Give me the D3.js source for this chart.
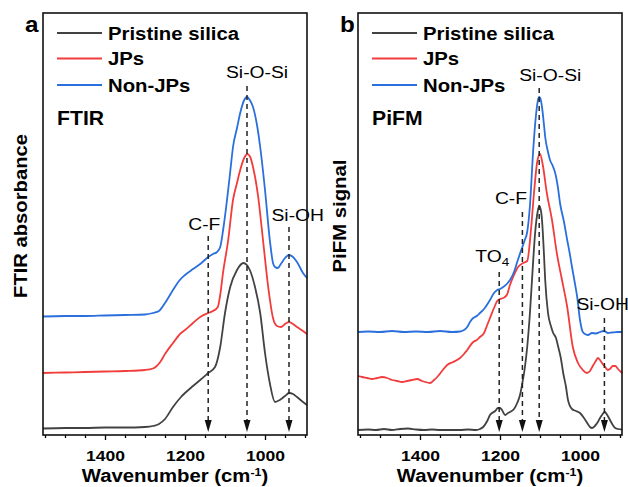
<!DOCTYPE html>
<html>
<head>
<meta charset="utf-8">
<style>
  body { margin: 0; background: #fff; }
  svg { display: block; }
  text { font-family: "Liberation Sans", Arial, sans-serif; fill: #000; }
</style>
</head>
<body>
<svg width="628" height="487"></svg>

<script src="https://cdn.jsdelivr.net/npm/d3@7/dist/d3.min.js"></script>
<script>

// series as [wavenumber, offset intensity]
var seriesNames = ["Pristine silica", "JPs", "Non-JPs"];

var ftirPristine = [[1555,6.5],[1500,7],[1450,7],[1400,7.5],[1350,7.5],[1300,8],[1280,9],[1265,11],[1250,16],[1230,28],[1210,38],[1200,42],[1180,49],[1162,55],[1142,62],[1125,68],[1112,88],[1100,122],[1087,148],[1070,165],[1054,172],[1038,165],[1025,148],[1012,122],[1000,82],[988,52],[975,33],[963,35],[950,39],[940,42],[930,41],[920,38],[905,33],[895,30]];
var ftirJPs = [[1555,62],[1500,62.5],[1450,63],[1400,63.5],[1350,64],[1300,65],[1280,66.5],[1262,73],[1250,81],[1230,92],[1210,102],[1200,105],[1180,112],[1162,118],[1142,122],[1130,124],[1118,128],[1112,140],[1105,162],[1092,195],[1080,235],[1070,252],[1062,265],[1052,277],[1044,281],[1037,278],[1030,268],[1017,238],[1005,195],[992,148],[980,117],[970,109],[960,108],[950,111],[940,113],[930,111],[920,108],[905,104],[895,101]];
var ftirNonJPs = [[1555,118.5],[1500,119],[1450,119],[1400,119.5],[1350,120],[1300,120.5],[1280,122],[1265,124],[1250,132],[1230,145],[1215,154],[1200,160],[1180,166],[1162,171],[1142,178],[1130,181],[1120,183],[1112,188],[1104,207],[1095,235],[1087,263],[1080,288],[1070,307],[1062,322],[1052,335],[1045,338],[1038,335],[1030,328],[1020,310],[1012,288],[1000,245],[988,195],[980,172],[975,168],[968,167],[962,170],[950,177],[940,180],[930,178],[920,173],[905,162],[895,157]];

var pifmPristine = [[1555,5],[1530,5.5],[1510,5],[1490,6],[1470,5],[1450,6],[1430,6.5],[1410,5.5],[1390,5],[1370,5.5],[1350,5],[1330,5],[1300,5],[1280,5.5],[1260,5],[1250,6],[1242,8],[1232,14],[1225,20],[1212,24],[1205,27],[1200,27],[1195,25],[1187,20],[1180,22],[1175,23],[1165,26],[1157,32],[1150,40],[1145,50],[1138,67],[1132,88],[1125,123],[1120,155],[1112,203],[1106,223],[1102,229],[1098,225],[1095,215],[1090,180],[1087,155],[1080,122],[1072,108],[1067,102],[1060,97],[1055,89],[1048,77],[1042,62],[1035,48],[1030,35],[1020,26],[1010,24],[1000,22],[990,17],[982,12],[975,8],[970,7],[963,9],[957,12],[950,17],[945,20],[938,23],[932,20],[925,15],[918,10],[912,7],[905,6],[895,5.5]];
var pifmJPs = [[1555,59],[1545,58],[1532,57],[1520,56],[1507,57],[1495,58],[1482,57],[1470,55],[1457,54],[1445,53],[1432,54],[1420,55],[1407,56],[1395,54],[1387,53],[1375,52],[1365,55],[1357,58],[1345,64],[1332,70],[1317,73],[1300,77],[1290,81],[1282,85],[1267,93],[1258,95],[1250,98],[1240,102],[1232,110],[1225,117],[1215,127],[1207,134],[1200,136],[1192,137],[1183,140],[1175,150],[1165,160],[1155,168],[1142,172],[1132,174],[1122,208],[1115,242],[1107,273],[1100,281],[1093,270],[1083,242],[1070,215],[1058,182],[1045,155],[1032,128],[1018,88],[1005,72],[993,65],[983,62],[975,64],[968,69],[962,73],[955,77],[950,75],[945,72],[937,68],[930,65],[925,66],[918,69],[912,69],[905,66],[895,62]];
var pifmNonJPs = [[1555,103],[1530,103.5],[1500,103],[1470,104],[1440,103],[1410,103.5],[1380,103],[1350,104],[1320,103],[1300,103.5],[1290,105],[1282,108],[1275,113],[1267,117],[1258,119],[1250,122],[1240,126],[1225,135],[1215,142],[1207,145],[1200,146],[1192,148],[1183,151],[1175,155],[1165,163],[1157,173],[1145,187],[1138,195],[1132,203],[1125,230],[1117,285],[1110,320],[1105,335],[1102,338],[1098,335],[1095,328],[1090,310],[1087,298],[1080,283],[1075,275],[1068,269],[1062,262],[1055,247],[1050,232],[1040,213],[1032,195],[1025,180],[1020,168],[1012,150],[1007,138],[1000,115],[993,103],[985,100.5],[980,100],[970,102],[960,101.5],[950,103],[940,104],[930,102],[920,102.5],[905,103],[895,103]];

var ftirBands = ["C-F", "Si-O-Si", "Si-OH"];
var ftirBandWn = [1142, 1045, 940];
var pifmBands = ["TO4", "C-F", "Si-O-Si", "Si-OH"];
var pifmBandWn = [1202, 1144, 1102, 939];

var tickLabels = [1400, 1200, 1000];
var minorTicks = d3.range(900, 1551, 50);

var colors = ["#424242", "#f23c3c", "#2b6fdc"];

var svg = d3.select("svg");
var plotTop = 13, plotBottom = 435;

// label placement for each band (text start relative to its line, baseline, top of dashes)
var panels = [
  {letter: "a", x0: 43, x1: 307, name: "FTIR", ytitle: "FTIR absorbance", ytx: 27, ytLen: 164,
   series: [ftirPristine, ftirJPs, ftirNonJPs], bands: ftirBands, bandWn: ftirBandWn,
   lab: [[-20, 230, 236], [-21, 78, 86], [-17.5, 221, 227]]},
  {letter: "b", x0: 358, x1: 622, name: "PiFM", ytitle: "PiFM signal", ytx: 346, ytLen: 113,
   series: [pifmPristine, pifmJPs, pifmNonJPs], bands: pifmBands, bandWn: pifmBandWn,
   lab: [[-24, 262, 272], [-27.5, 204, 212], [-20, 81, 88], [-28, 310, 318]]}
];

var y = d3.scaleLinear().domain([0, 422]).range([plotBottom, plotTop]);

// stretched text, the reference is a little wider than plain Arial
function stext(g, x, y, str, size, weight, sx, anchor, rot) {
  return g.append("text")
    .attr("transform", "translate(" + x + "," + y + ")" + (rot ? " rotate(" + rot + ")" : "") + " scale(" + sx + ",1)")
    .attr("text-anchor", anchor || "start")
    .style("font-size", size + "px")
    .style("font-weight", weight)
    .text(str);
}

panels.forEach(function(p) {
  var g = svg.append("g");
  var x = d3.scaleLinear().domain([1555, 895]).range([p.x0, p.x1]);

  // x axis
  var axis = g.append("g")
    .attr("transform", "translate(0," + plotBottom + ")")
    .call(d3.axisBottom(x).tickValues(minorTicks).tickSize(3).tickSizeOuter(0)
      .tickFormat(function(d) { return tickLabels.indexOf(d) >= 0 ? d : ""; }));
  axis.select(".domain").remove();
  axis.selectAll(".tick line").attr("stroke", "#000").attr("stroke-width", 1.3)
    .attr("y2", function(d) { return tickLabels.indexOf(d) >= 0 ? 5 : 3; });
  axis.selectAll(".tick text")
    .attr("y", 26.5).attr("dy", null)
    .attr("transform", "scale(1.13,1)")
    .style("font-family", "Liberation Sans, Arial, sans-serif")
    .style("font-size", "15.5px").style("font-weight", "bold").attr("fill", "#000");

  // lines
  var line = d3.line()
    .x(function(d) { return x(d[0]); })
    .y(function(d) { return y(d[1]); })
    .curve(d3.curveMonotoneX);

  p.series.forEach(function(s, i) {
    g.append("path")
      .attr("d", line(s))
      .attr("fill", "none")
      .attr("stroke", colors[i])
      .attr("stroke-width", 1.8);
  });

  // band markers
  p.bandWn.forEach(function(wn, i) {
    var bx = x(wn), lp = p.lab[i];
    g.append("line")
      .attr("x1", bx).attr("x2", bx)
      .attr("y1", lp[2]).attr("y2", 421)
      .attr("stroke", "#222").attr("stroke-width", 1.5)
      .attr("stroke-dasharray", "5,4");
    g.append("path")
      .attr("d", "M" + (bx - 3.5) + ",420L" + (bx + 3.5) + ",420L" + bx + ",432Z")
      .attr("fill", "#111");
    var t = stext(g, bx + lp[0], lp[1], "", 16.5, "normal", 1.17);
    if (p.bands[i] == "TO4") {
      t.append("tspan").text("TO");
      t.append("tspan").attr("dy", 4).style("font-size", "11.5px").text("4");
    } else {
      t.text(p.bands[i]);
    }
  });

  // frame
  g.append("rect")
    .attr("x", p.x0).attr("y", plotTop)
    .attr("width", p.x1 - p.x0).attr("height", plotBottom - plotTop)
    .attr("fill", "none").attr("stroke", "#111").attr("stroke-width", 1.6);

  // legend
  seriesNames.forEach(function(n, i) {
    var ly = [33, 58.5, 85][i];
    g.append("line")
      .attr("x1", p.x0 + 14).attr("x2", p.x0 + 59)
      .attr("y1", ly).attr("y2", ly)
      .attr("stroke", colors[i]).attr("stroke-width", 2);
    stext(g, p.x0 + 65, ly + 6.5, n, 18, "bold", 1.13);
  });

  stext(g, p.x0 + 14, 125, p.name, 20, "bold", 1.06);
  stext(g, p.x0 - 18, 31.5, p.letter, 22, "bold", 1.1);

  // titles
  var wt = stext(g, (p.x0 + p.x1) / 2, 482, "", 18, "bold", 1.13, "middle");
  wt.append("tspan").text("Wavenumber (cm");
  wt.append("tspan").attr("dy", -6).style("font-size", "11px").text("-1");
  wt.append("tspan").attr("dy", 6).text(")");

  var yt = stext(g, p.ytx, 216, p.ytitle, 18, "bold", 1, "middle", -90);
  var len = yt.node().getComputedTextLength();
  yt.attr("transform", "translate(" + p.ytx + ",216) rotate(-90) scale(" + (p.ytLen / len) + ",1)");
});

</script>
</body>
</html>
